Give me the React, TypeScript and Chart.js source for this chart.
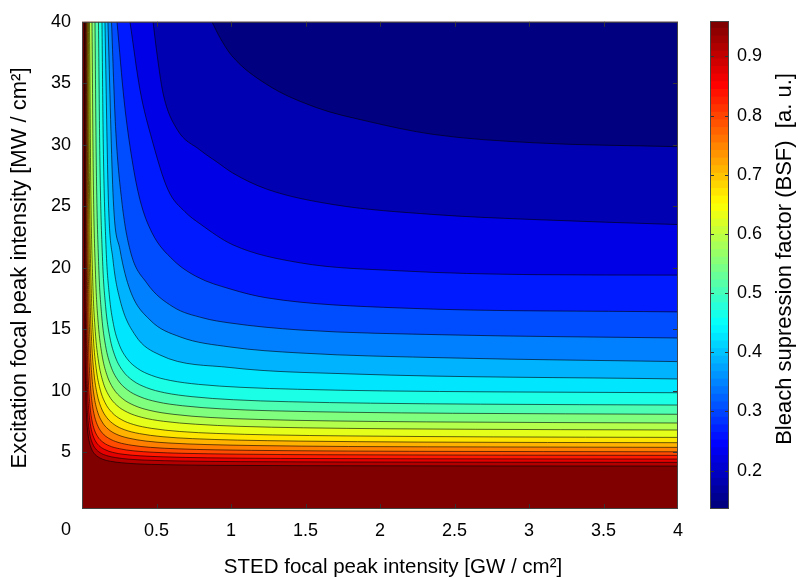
import React, { useEffect, useRef } from "react";
import { Chart, registerables } from "chart.js";
Chart.register(...registerables);

const FONT = "'Liberation Sans', Arial, Helvetica, sans-serif";

const X_TICKS = [0, 0.5, 1, 1.5, 2, 2.5, 3, 3.5, 4];
const Y_TICKS = [5, 10, 15, 20, 25, 30, 35, 40];
const CBAR_TICKS = [0.2, 0.3, 0.4, 0.5, 0.6, 0.7, 0.8, 0.9];
const BSF_MIN = 0.135;
const BSF_MAX = 0.96;
const LEVELS = [0.176, 0.218, 0.259, 0.3, 0.341, 0.383, 0.424, 0.465, 0.506, 0.548, 0.589, 0.63, 0.671, 0.713, 0.754, 0.795, 0.836, 0.878, 0.919, 0.96];

const X_TITLE = "STED focal peak intensity [GW / cm²]";
const Y_TITLE = "Excitation focal peak intensity [MW / cm²]";
const CBAR_TITLE = "Bleach supression factor (BSF)  [a. u.]";

// contour lines [STED GW/cm², excitation MW/cm²], from lowest level (top right) to highest
const C01 = [[0.872, 40], [0.926, 38.71], [1.005, 37.25], [1.24, 34.91], [1.575, 33.02], [1.911, 31.93], [2.356, 30.85], [3.027, 30.17], [4, 29.85]];
const C02 = [[0.477, 40], [0.5, 37.7], [0.544, 34.2], [0.636, 31.3], [0.79, 29.6], [0.906, 28.6], [1.013, 27.7], [1.24, 26.4], [1.685, 25.15], [2.356, 24.34], [3.027, 23.93], [4, 23.52]];
const C03 = [[0.322, 40], [0.389, 34.48], [0.47, 30.41], [0.577, 26.35], [0.691, 24.56], [0.792, 23.58], [1.013, 21.87], [1.463, 20.41], [2.134, 19.76], [3.027, 19.45], [4, 19.41]];
const C04 = [[0.235, 40], [0.282, 33.67], [0.336, 28.79], [0.389, 25.53], [0.47, 22.85], [0.611, 20.65], [0.772, 19.27], [0.993, 18.29], [1.242, 17.56], [2.134, 16.74], [4, 16.42]];
const C05 = [[0.198, 40], [0.225, 31.5], [0.266, 25.53], [0.322, 21.47], [0.434, 18.78], [0.611, 16.83], [0.812, 15.93], [0.993, 15.52], [1.463, 14.95], [2.47, 14.55], [4, 14.3]];
const C06 = [[0.174, 40], [0.21, 25.53], [0.255, 21.47], [0.322, 18.21], [0.456, 15.77], [0.658, 14.39], [0.993, 13.57], [1.463, 13.08], [2.47, 12.68], [4, 12.38]];
const C07 = [[0.154, 40], [0.177, 25.53], [0.208, 20.65], [0.255, 17.4], [0.356, 14.55], [0.523, 12.92], [0.993, 11.9], [1.799, 11.38], [4, 10.97]];
const C08 = [[0.134, 40], [0.1428, 30.06], [0.1605, 21.92], [0.1827, 17.85], [0.2112, 15.41], [0.2493, 13.78], [0.3011, 12.64], [0.3721, 11.83], [0.4665, 11.26], [0.5917, 10.85], [0.7819, 10.53], [1.0671, 10.29], [1.4477, 10.13], [2.018, 10.0], [2.779, 9.92], [4, 9.85]];
const C09 = [[0.1107, 40], [0.1197, 29.06], [0.137, 20.92], [0.1585, 16.85], [0.1861, 14.41], [0.223, 12.78], [0.2731, 11.64], [0.342, 10.83], [0.4334, 10.26], [0.5546, 9.85], [0.7389, 9.53], [1.0154, 9.28], [1.3839, 9.12], [1.9369, 9.0], [2.6738, 8.92], [4, 8.85]];
const C10 = [[0.0872, 40], [0.096, 28.32], [0.1121, 20.18], [0.1322, 16.11], [0.1581, 13.67], [0.1926, 12.04], [0.2396, 10.9], [0.304, 10.09], [0.3897, 9.52], [0.5033, 9.11], [0.6758, 8.79], [0.9349, 8.54], [1.2799, 8.38], [1.7977, 8.26], [2.4879, 8.18], [4, 8.1]];
const C11 = [[0.0671, 40], [0.0756, 27.62], [0.0907, 19.48], [0.1095, 15.41], [0.1336, 12.97], [0.1659, 11.34], [0.2098, 10.2], [0.2701, 9.39], [0.3501, 8.82], [0.4562, 8.41], [0.6174, 8.09], [0.8593, 7.84], [1.1819, 7.68], [1.6657, 7.56], [2.3107, 7.48], [4, 7.39]];
const C12 = [[0.0503, 40], [0.0585, 27.05], [0.0721, 18.92], [0.089, 14.85], [0.1107, 12.41], [0.1397, 10.78], [0.1792, 9.64], [0.2334, 8.83], [0.3053, 8.26], [0.4007, 7.85], [0.5456, 7.53], [0.7631, 7.29], [1.053, 7.12], [1.4879, 7.0], [2.0678, 6.92], [3.2094, 6.85], [4, 6.82]];
const C13 = [[0.0436, 40], [0.0503, 26.48], [0.0619, 18.34], [0.0765, 14.27], [0.0952, 11.83], [0.1201, 10.2], [0.1541, 9.06], [0.2007, 8.25], [0.2625, 7.68], [0.3445, 7.27], [0.4691, 6.95], [0.6561, 6.7], [0.9054, 6.54], [1.2792, 6.42], [1.7779, 6.34], [2.7594, 6.26], [4, 6.22]];
const C14 = [[0.0383, 40], [0.0441, 26.05], [0.0536, 17.92], [0.0654, 13.85], [0.0806, 11.41], [0.1009, 9.78], [0.1285, 8.64], [0.1664, 7.83], [0.2167, 7.26], [0.2835, 6.85], [0.3849, 6.53], [0.537, 6.28], [0.7399, 6.12], [1.0443, 6.0], [1.45, 5.92], [2.249, 5.84], [4, 5.79]];
const C15 = [[0.0336, 40], [0.0381, 25.7], [0.0456, 17.56], [0.055, 13.49], [0.0671, 11.05], [0.0832, 9.42], [0.1052, 8.28], [0.1352, 7.47], [0.1752, 6.9], [0.2282, 6.49], [0.3087, 6.17], [0.4295, 5.92], [0.5906, 5.76], [0.8322, 5.64], [1.1544, 5.56], [1.7886, 5.48], [2.8456, 5.44], [4, 5.41]];
const C16 = [[0.0289, 40], [0.0326, 25.35], [0.0383, 17.21], [0.0456, 13.14], [0.0549, 10.7], [0.0673, 9.08], [0.0842, 7.94], [0.1074, 7.12], [0.1383, 6.55], [0.1791, 6.15], [0.2413, 5.82], [0.3345, 5.58], [0.4587, 5.41], [0.645, 5.29], [0.8936, 5.21], [1.3829, 5.14], [2.1983, 5.09], [4, 5.05]];
const C17 = [[0.0248, 40], [0.0276, 25.07], [0.0319, 16.93], [0.0373, 12.86], [0.0442, 10.42], [0.0534, 8.8], [0.0659, 7.66], [0.0831, 6.84], [0.1059, 6.27], [0.1362, 5.87], [0.1822, 5.54], [0.2513, 5.3], [0.3433, 5.13], [0.4813, 5.01], [0.6654, 4.93], [1.0279, 4.86], [1.6319, 4.81], [4, 4.76]];
const C18 = [[0.0215, 40], [0.0237, 24.77], [0.0272, 16.64], [0.0316, 12.57], [0.0372, 10.13], [0.0448, 8.5], [0.055, 7.36], [0.0691, 6.55], [0.0877, 5.98], [0.1124, 5.57], [0.15, 5.25], [0.2064, 5.0], [0.2815, 4.84], [0.3943, 4.72], [0.5446, 4.64], [0.8406, 4.56], [1.3339, 4.51], [2.2107, 4.48], [4, 4.46]];
const C19 = [[0.0181, 40], [0.0199, 24.51], [0.0227, 16.37], [0.0262, 12.31], [0.0307, 9.86], [0.0367, 8.24], [0.0448, 7.1], [0.056, 6.28], [0.0709, 5.72], [0.0905, 5.31], [0.1205, 4.98], [0.1654, 4.74], [0.2252, 4.58], [0.3149, 4.45], [0.4346, 4.37], [0.6701, 4.3], [1.0628, 4.25], [1.7607, 4.22], [4, 4.19]];
const C20 = [[0.0148, 40], [0.0163, 24.21], [0.0187, 16.08], [0.0216, 12.01], [0.0254, 9.57], [0.0305, 7.94], [0.0374, 6.8], [0.0468, 5.99], [0.0594, 5.42], [0.076, 5.01], [0.1013, 4.69], [0.1393, 4.44], [0.1899, 4.28], [0.2658, 4.16], [0.3671, 4.07], [0.5664, 4.0], [0.8987, 3.95], [1.4893, 3.92], [4, 3.89]];

const CONTOURS = [C01, C02, C03, C04, C05, C06, C07, C08, C09, C10, C11, C12, C13, C14, C15, C16, C17, C18, C19, C20];

function jet(t: number): string {
  const c = (v: number) => Math.round(255 * Math.max(0, Math.min(1, v)));
  const r = c(Math.min(4 * t - 1.5, -4 * t + 4.5));
  const g = c(Math.min(4 * t - 0.5, -4 * t + 3.5));
  const b = c(Math.min(4 * t + 0.5, -4 * t + 2.5));
  return `rgb(${r},${g},${b})`;
}
const norm = (v: number) => (v - BSF_MIN) / (BSF_MAX - BSF_MIN);

const mainPlugin = {
  id: "mainFrame",
  beforeDatasetsDraw(chart: any) {
    const { ctx, chartArea: a } = chart;
    ctx.save();
    ctx.fillStyle = jet(norm(LEVELS[LEVELS.length - 1]));
    ctx.fillRect(a.left, a.top, a.right - a.left, a.bottom - a.top);
    ctx.restore();
  },
  afterDatasetsDraw(chart: any) {
    const { ctx, chartArea: a, scales } = chart;
    const xs = scales.x, ys = scales.y;
    ctx.save();
    ctx.strokeStyle = "#333";
    ctx.lineWidth = 1;
    ctx.beginPath();
    const tl = 5;
    X_TICKS.forEach((v) => {
      const px = Math.round(xs.getPixelForValue(v)) + 0.5;
      if (px <= a.left + 1 || px >= a.right - 1) return;
      ctx.moveTo(px, a.bottom); ctx.lineTo(px, a.bottom - tl);
      ctx.moveTo(px, a.top); ctx.lineTo(px, a.top + tl);
    });
    Y_TICKS.forEach((v) => {
      const py = Math.round(ys.getPixelForValue(v)) + 0.5;
      if (py <= a.top + 1 || py >= a.bottom - 1) return;
      ctx.moveTo(a.left, py); ctx.lineTo(a.left + tl, py);
      ctx.moveTo(a.right, py); ctx.lineTo(a.right - tl, py);
    });
    ctx.stroke();
    ctx.strokeStyle = "#444";
    ctx.strokeRect(a.left + 0.5, a.top + 0.5, a.right - a.left - 1, a.bottom - a.top - 1);
    ctx.fillStyle = "#000";
    ctx.textAlign = "center";
    ctx.textBaseline = "middle";
    // x tick label "0", set left of the axis corner as in the original
    ctx.font = `18px ${FONT}`;
    ctx.fillText(String(X_TICKS[0]), xs.getPixelForValue(X_TICKS[0]) - 16, a.bottom + 21);
    // axis titles
    ctx.font = `20.5px ${FONT}`;
    ctx.fillText(X_TITLE, 393, 567);
    ctx.save();
    ctx.font = `22px ${FONT}`;
    ctx.translate(20, 268);
    ctx.rotate(-Math.PI / 2);
    ctx.fillText(Y_TITLE, 0, 0);
    ctx.restore();
    ctx.restore();
  },
};

const cbarPlugin = {
  id: "cbarFrame",
  afterDatasetsDraw(chart: any) {
    const { ctx, chartArea: a, scales } = chart;
    const ys = scales.y;
    ctx.save();
    ctx.strokeStyle = "#333";
    ctx.lineWidth = 1;
    ctx.beginPath();
    CBAR_TICKS.forEach((v) => {
      const py = Math.round(ys.getPixelForValue(v)) + 0.5;
      ctx.moveTo(a.left, py); ctx.lineTo(a.left + 4, py);
      ctx.moveTo(a.right, py); ctx.lineTo(a.right - 4, py);
    });
    ctx.stroke();
    ctx.strokeStyle = "#444";
    ctx.strokeRect(a.left + 0.5, a.top + 0.5, a.right - a.left - 1, a.bottom - a.top - 1);
    ctx.fillStyle = "#000";
    ctx.font = `22px ${FONT}`;
    ctx.textAlign = "center";
    ctx.textBaseline = "middle";
    ctx.translate(85, 259);
    ctx.rotate(-Math.PI / 2);
    ctx.fillText(CBAR_TITLE, 0, 0);
    ctx.restore();
  },
};

export default function App() {
  const mainRef = useRef<HTMLCanvasElement>(null);
  const cbarRef = useRef<HTMLCanvasElement>(null);

  useEffect(() => {
    const datasets = CONTOURS.map((pts, i) => ({
      data: pts.map(([x, y]) => ({ x, y })),
      borderColor: "rgba(0,0,0,0.75)",
      borderWidth: 0.8,
      pointRadius: 0,
      fill: "end",
      backgroundColor: jet(i === 0 ? 0 : norm(LEVELS[i - 1])),
      cubicInterpolationMode: "monotone",
    }));

    const main = new Chart(mainRef.current as HTMLCanvasElement, {
      type: "line",
      data: { datasets } as any,
      options: {
        animation: false,
        responsive: false,
        events: [],
        layout: { padding: { top: 21, right: 120, left: 0, bottom: 0 } },
        plugins: { legend: { display: false }, tooltip: { enabled: false } },
        scales: {
          x: {
            type: "linear",
            min: 0,
            max: 4,
            grid: { display: false, drawTicks: false },
            border: { display: false },
            afterBuildTicks: (s: any) => { s.ticks = X_TICKS.map((v) => ({ value: v })); },
            afterFit: (s: any) => { s.height = 70; },
            ticks: {
              font: { family: FONT, size: 18 },
              color: "#000",
              padding: 11,
              maxRotation: 0,
              autoSkip: false,
              callback: (v: any) => (v === X_TICKS[0] ? "" : String(v)),
            },
            title: { display: false },
          },
          y: {
            type: "linear",
            min: 0.4,
            max: 40,
            grid: { display: false, drawTicks: false },
            border: { display: false },
            afterBuildTicks: (s: any) => { s.ticks = Y_TICKS.map((v) => ({ value: v })); },
            afterFit: (s: any) => { s.width = 82; },
            ticks: { font: { family: FONT, size: 18 }, color: "#000", padding: 11, autoSkip: false, callback: (v: any) => String(v) },
            title: { display: false },
          },
        },
      },
      plugins: [mainPlugin],
    } as any);

    const nColors = 64;
    const step = (BSF_MAX - BSF_MIN) / nColors;
    const cbarSets = Array.from({ length: nColors }, (_, i) => ({
      data: [[BSF_MIN + i * step, BSF_MIN + (i + 1) * step + step * 0.05]],
      backgroundColor: jet(i / (nColors - 1)),
      borderWidth: 0,
      grouped: false,
      barPercentage: 1,
      categoryPercentage: 1,
    }));
    const cbar = new Chart(cbarRef.current as HTMLCanvasElement, {
      type: "bar",
      data: { labels: [""], datasets: cbarSets } as any,
      options: {
        animation: false,
        responsive: false,
        events: [],
        layout: { padding: { top: 21, bottom: 70, left: 10, right: 0 } },
        plugins: { legend: { display: false }, tooltip: { enabled: false } },
        scales: {
          x: { display: false },
          y: {
            position: "right",
            min: BSF_MIN,
            max: BSF_MAX,
            grid: { display: false, drawTicks: false },
            border: { display: false },
            afterBuildTicks: (s: any) => { s.ticks = CBAR_TICKS.map((v) => ({ value: v })); },
            afterFit: (s: any) => { s.width = 69; },
            ticks: { font: { family: FONT, size: 18 }, color: "#000", padding: 8, callback: (v: any) => Number(v).toFixed(1) },
          },
        },
      },
      plugins: [cbarPlugin],
    } as any);

    return () => { main.destroy(); cbar.destroy(); };
  }, []);

  return (
    <div style={{ position: "fixed", left: 0, top: 0, width: 798, height: 579, background: "#fff" }}>
      <canvas ref={mainRef} width={798} height={579} style={{ position: "absolute", left: 0, top: 0 }} />
      <canvas ref={cbarRef} width={98} height={579} style={{ position: "absolute", left: 700, top: 0 }} />
    </div>
  );
}
